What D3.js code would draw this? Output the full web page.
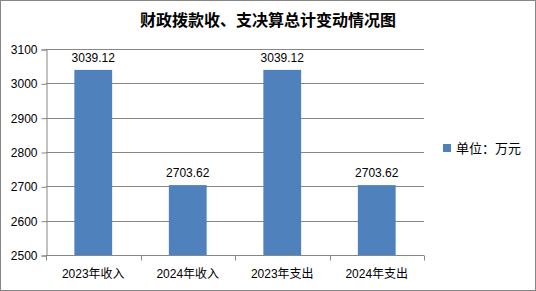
<!DOCTYPE html>
<html>
<head>
<meta charset="utf-8">
<script src="https://cdn.jsdelivr.net/npm/d3@7"></script>
<style>
  body { margin: 0; background: #fff; }
  svg text { font-family: "Liberation Sans", "Noto Sans CJK SC", sans-serif; }
</style>
</head>
<body>
<div id="chart"></div>
<script>
const categories = ["2023年收入", "2024年收入", "2023年支出", "2024年支出"];
const values = [3039.12, 2703.62, 3039.12, 2703.62];
const yTicks = [2500, 2600, 2700, 2800, 2900, 3000, 3100];
const legendLabel = "单位：万元";
const title = "财政拨款收、支决算总计变动情况图";

const W = 536, H = 291;
const plot = { left: 46, right: 424, top: 49, bottom: 255 };

const svg = d3.select("#chart").append("svg")
  .attr("width", W).attr("height", H);

svg.append("rect")
  .attr("x", 0.5).attr("y", 0.5)
  .attr("width", W - 1).attr("height", H - 1)
  .attr("fill", "#fff").attr("stroke", "#868686");

svg.append("text")
  .attr("x", 268).attr("y", 26)
  .attr("text-anchor", "middle")
  .style("font-family", "'Noto Sans CJK SC', sans-serif")
  .style("font-weight", "bold")
  .style("font-size", "16px")
  .text(title);

let x = d3.scaleBand().domain(categories)
  .range([plot.left, plot.right]).paddingInner(0.6).paddingOuter(0.3);
let xb = d3.scaleBand().domain(categories).range([plot.left, plot.right]);
let y = d3.scaleLinear().domain([2500, 3100]).range([plot.bottom, plot.top]);

// gridlines
svg.append("g").selectAll("line")
  .data(yTicks.slice(1))
  .join("line")
  .attr("x1", plot.left).attr("x2", plot.right)
  .attr("y1", d => Math.round(y(d)) + 0.5).attr("y2", d => Math.round(y(d)) + 0.5)
  .attr("stroke", "#868686");

// y axis
let yAxis = svg.append("g")
  .attr("transform", "translate(" + (plot.left + 0.5) + ",0.5)")
  .call(d3.axisLeft(y).tickValues(yTicks).tickSize(5).tickPadding(4).tickFormat(d3.format("d")));
yAxis.select(".domain").attr("stroke", "#868686");
yAxis.selectAll(".tick line").attr("stroke", "#868686");
yAxis.selectAll("text").style("font-size", "12px").attr("fill", "#000");

// x axis
let xAxis = svg.append("g")
  .attr("transform", "translate(0," + (plot.bottom + 0.5) + ")");
xAxis.append("line")
  .attr("x1", plot.left).attr("x2", plot.right)
  .attr("stroke", "#868686");
xAxis.selectAll(".tk")
  .data(categories.concat(["end"]))
  .join("line")
  .attr("x1", (d, i) => Math.round(plot.left + i * xb.step()) + 0.5)
  .attr("x2", (d, i) => Math.round(plot.left + i * xb.step()) + 0.5)
  .attr("y1", 0).attr("y2", 5)
  .attr("stroke", "#868686");
xAxis.selectAll("text")
  .data(categories)
  .join("text")
  .attr("x", d => xb(d) + xb.bandwidth() / 2)
  .attr("y", 22)
  .attr("text-anchor", "middle")
  .style("font-size", "12px")
  .text(d => d);

// bars
svg.append("g").selectAll("rect")
  .data(values)
  .join("rect")
  .attr("x", (d, i) => x(categories[i]))
  .attr("width", x.bandwidth())
  .attr("y", d => y(d))
  .attr("height", d => y(2500) - y(d))
  .attr("fill", "#4F81BD");

svg.append("g").selectAll("text")
  .data(values)
  .join("text")
  .attr("x", (d, i) => x(categories[i]) + x.bandwidth() / 2)
  .attr("y", d => y(d) - 8)
  .attr("text-anchor", "middle")
  .style("font-size", "12px")
  .text(d => d.toFixed(2));

// legend
let legend = svg.append("g");
legend.append("rect")
  .attr("x", 443).attr("y", 144).attr("width", 8).attr("height", 8)
  .attr("fill", "#4F81BD");
legend.append("text")
  .attr("x", 456).attr("y", 153)
  .style("font-size", "13px")
  .text(legendLabel);
</script>
</body>
</html>
